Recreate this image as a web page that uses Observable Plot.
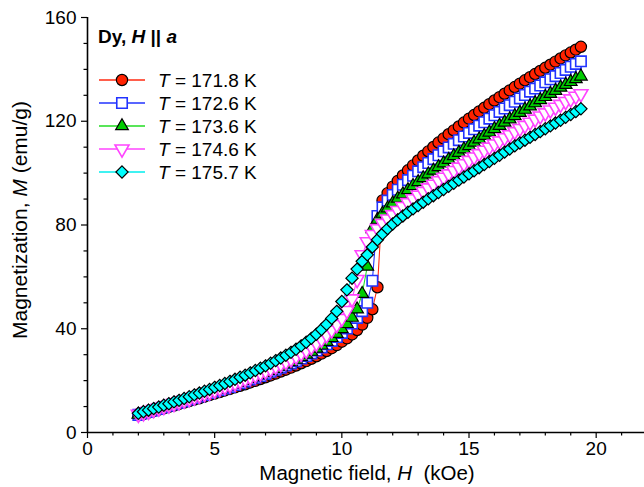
<!DOCTYPE html>
<html>
<head>
<meta charset="utf-8">
<script src="https://cdn.jsdelivr.net/npm/d3@7"></script>
<script src="https://cdn.jsdelivr.net/npm/@observablehq/plot@0.6"></script>
<style>
  html, body { margin: 0; padding: 0; background: #fff; }
  svg { display: block; }
</style>
</head>
<body>
<div id="chart"></div>
<script>
// Magnetic field grid (kOe)
const fieldH = [
  2, 2.2, 2.4, 2.6, 2.8, 3, 3.2, 3.4, 3.6, 3.8,
  4, 4.2, 4.4, 4.6, 4.8, 5, 5.2, 5.4, 5.6, 5.8,
  6, 6.2, 6.4, 6.6, 6.8, 7, 7.2, 7.4, 7.6, 7.8,
  8, 8.2, 8.4, 8.6, 8.8, 9, 9.2, 9.4, 9.6, 9.8,
  10, 10.2, 10.4, 10.6, 10.8, 11, 11.2, 11.4, 11.6, 11.8,
  12, 12.2, 12.4, 12.6, 12.8, 13, 13.2, 13.4, 13.6, 13.8,
  14, 14.2, 14.4, 14.6, 14.8, 15, 15.2, 15.4, 15.6, 15.8,
  16, 16.2, 16.4, 16.6, 16.8, 17, 17.2, 17.4, 17.6, 17.8,
  18, 18.2, 18.4, 18.6, 18.8, 19, 19.2, 19.4
];
// Magnetization (emu/g) for each temperature
const m171_8 = [
  6.6, 7.1, 7.7, 8.2, 8.8, 9.3, 9.9, 10.4, 11.0, 11.5,
  12.1, 12.7, 13.2, 13.8, 14.4, 15.0, 15.6, 16.2, 16.8, 17.4,
  18.0, 18.6, 19.3, 19.9, 20.6, 21.3, 22.0, 22.7, 23.5, 24.2,
  25.0, 25.8, 26.7, 27.5, 28.4, 29.4, 30.4, 31.4, 32.5, 33.7,
  35.0, 36.3, 37.8, 39.5, 41.6, 44.2, 47.5, 56.0, 89.5, 92.3,
  94.8, 97.0, 99.1, 101.1, 103.0, 104.9, 106.7, 108.4, 110.1, 111.8,
  113.4, 115.0, 116.5, 118.0, 119.5, 121.0, 122.4, 123.8, 125.2, 126.6,
  128.0, 129.3, 130.6, 131.9, 133.2, 134.5, 135.8, 137.0, 138.2, 139.4,
  140.6, 141.8, 143.0, 144.2, 145.4, 146.5, 147.6, 148.7
];
const m172_6 = [
  6.8, 7.4, 7.9, 8.5, 9.1, 9.7, 10.3, 10.9, 11.5, 12.1,
  12.7, 13.3, 13.9, 14.5, 15.2, 15.8, 16.4, 17.0, 17.6, 18.3,
  19.0, 19.7, 20.4, 21.1, 21.8, 22.6, 23.4, 24.2, 25.0, 25.8,
  26.6, 27.5, 28.5, 29.5, 30.5, 31.6, 32.8, 34.0, 35.3, 36.8,
  38.4, 40.1, 42.0, 44.2, 46.8, 50.0, 58.5, 83.5, 86.8, 89.4,
  91.6, 93.6, 95.5, 97.3, 99.0, 100.7, 102.3, 103.9, 105.4, 106.9,
  108.4, 109.9, 111.3, 112.7, 114.1, 115.5, 116.9, 118.3, 119.6, 121.0,
  122.3, 123.6, 124.9, 126.2, 127.5, 128.8, 130.1, 131.4, 132.6, 133.8,
  135.0, 136.2, 137.4, 138.6, 139.8, 141.0, 142.1, 143.1
];
const m173_6 = [
  6.9, 7.5, 8.0, 8.6, 9.2, 9.8, 10.4, 11.0, 11.6, 12.2,
  12.8, 13.4, 14.0, 14.7, 15.3, 16.0, 16.6, 17.2, 17.9, 18.6,
  19.3, 20.0, 20.7, 21.4, 22.2, 23.0, 23.8, 24.6, 25.4, 26.3,
  27.2, 28.1, 29.1, 30.1, 31.2, 32.4, 33.6, 35.0, 36.5, 38.1,
  39.9, 41.9, 44.3, 47.5, 53.5, 64.0, 78.5, 82.0, 84.4, 86.5,
  88.4, 90.2, 91.9, 93.5, 95.1, 96.6, 98.1, 99.6, 101.0, 102.4,
  103.8, 105.2, 106.6, 107.9, 109.2, 110.5, 111.8, 113.1, 114.4, 115.7,
  117.0, 118.3, 119.5, 120.8, 122.0, 123.3, 124.5, 125.8, 127.0, 128.2,
  129.4, 130.6, 131.8, 133.0, 134.1, 135.2, 136.3, 137.3
];
const m174_6 = [
  7.0, 7.6, 8.2, 8.8, 9.4, 10.0, 10.6, 11.2, 11.8, 12.4,
  13.0, 13.7, 14.3, 15.0, 15.6, 16.3, 17.0, 17.7, 18.4, 19.1,
  19.8, 20.6, 21.3, 22.1, 22.9, 23.7, 24.6, 25.5, 26.4, 27.3,
  28.3, 29.4, 30.5, 31.7, 33.0, 34.4, 35.9, 37.6, 39.5, 41.6,
  44.0, 47.0, 51.5, 59.0, 68.5, 73.5, 76.3, 78.6, 80.6, 82.3,
  84.0, 85.6, 87.1, 88.6, 90.1, 91.5, 92.9, 94.3, 95.7, 97.1,
  98.4, 99.7, 101.0, 102.3, 103.6, 104.9, 106.2, 107.5, 108.8, 110.0,
  111.2, 112.4, 113.6, 114.8, 116.0, 117.2, 118.4, 119.6, 120.8, 122.0,
  123.2, 124.3, 125.4, 126.5, 127.6, 128.6, 129.6, 130.6
];
const m175_7 = [
  7.4, 8.0, 8.6, 9.2, 9.8, 10.5, 11.1, 11.8, 12.4, 13.1,
  13.8, 14.5, 15.2, 15.9, 16.6, 17.4, 18.1, 18.9, 19.7, 20.5,
  21.3, 22.1, 23.0, 23.9, 24.8, 25.7, 26.7, 27.7, 28.7, 29.8,
  30.9, 32.1, 33.4, 34.8, 36.3, 37.9, 39.7, 41.7, 44.0, 46.7,
  50.5, 55.0, 59.5, 63.0, 66.0, 68.5, 71.5, 74.3, 76.6, 78.6,
  80.4, 82.0, 83.5, 84.9, 86.2, 87.5, 88.8, 90.1, 91.3, 92.5,
  93.7, 94.9, 96.1, 97.3, 98.5, 99.7, 100.9, 102.1, 103.3, 104.5,
  105.7, 106.9, 108.1, 109.3, 110.5, 111.6, 112.7, 113.8, 114.9, 116.0,
  117.1, 118.2, 119.3, 120.4, 121.5, 122.6, 123.7, 124.8
];
const temperatures = ["171.8", "172.6", "173.6", "174.6", "175.7"];
const xMajorTicks = [0, 5, 10, 15, 20];
const xMinorTicks = [1, 2, 3, 4, 6, 7, 8, 9, 11, 12, 13, 14, 16, 17, 18, 19, 21];
const yMajorTicks = [0, 40, 80, 120, 160];
const yMinorTicks = [10, 20, 30, 50, 60, 70, 90, 100, 110, 130, 140, 150];

const triangleDown = {
  draw(context, size) {
    const y = Math.sqrt(size / (3 * Math.sqrt(3)));
    context.moveTo(0, 2 * y);
    context.lineTo(-Math.sqrt(3) * y, -y);
    context.lineTo(Math.sqrt(3) * y, -y);
    context.closePath();
  }
};

const seriesStyle = [
  {m: m171_8, line: "#ff2a10", symbol: "circle", d3sym: d3.symbolCircle, r: 5.6, fill: "#ff2200", stroke: "#000", sw: 1.2},
  {m: m172_6, line: "#2233ff", symbol: "square", d3sym: d3.symbolSquare, r: 5.9, fill: "#ffffff", stroke: "#2233ff", sw: 1.6},
  {m: m173_6, line: "#22dd22", symbol: "triangle", d3sym: d3.symbolTriangle, r: 4.7, fill: "#00cc00", stroke: "#000", sw: 1.2},
  {m: m174_6, line: "#ff44ff", symbol: triangleDown, d3sym: triangleDown, r: 5.2, fill: "#ffffff", stroke: "#ff44ff", sw: 1.6},
  {m: m175_7, line: "#00eeee", symbol: "diamond2", d3sym: d3.symbolDiamond2, r: 5.5, fill: "#00ffff", stroke: "#000", sw: 1.2}
];

const marks = [];
seriesStyle.forEach(s => {
  const data = fieldH.map((h, i) => ({H: h, M: s.m[i]}));
  marks.push(Plot.line(data, {x: "H", y: "M", stroke: s.line, strokeWidth: 1.1}));
  marks.push(Plot.dot(data, {x: "H", y: "M", symbol: s.symbol, r: s.r, fill: s.fill, stroke: s.stroke, strokeWidth: s.sw}));
});

const fontFamily = "'Liberation Sans', Arial, Helvetica, sans-serif";

const svgNode = Plot.plot({
  width: 644,
  height: 487,
  marginLeft: 87,
  marginRight: 0,
  marginTop: 17,
  marginBottom: 55,
  style: {fontFamily, fontSize: "19px", color: "#000", background: "#fff", overflow: "visible"},
  x: {domain: [0, 21.9]},
  y: {domain: [0, 160]},
  marks: [
    Plot.axisX({ticks: xMinorTicks, tickSize: 3.5, tickFormat: () => "", label: null, strokeWidth: 1.2}),
    Plot.axisX({ticks: xMajorTicks, tickSize: 6, tickPadding: 3, label: null, strokeWidth: 1.2, fontSize: 19}),
    Plot.axisY({ticks: yMinorTicks, tickSize: 3.5, tickFormat: () => "", label: null, strokeWidth: 1.2}),
    Plot.axisY({ticks: yMajorTicks, tickSize: 6, tickPadding: 5, label: null, strokeWidth: 1.2, fontSize: 19}),
    Plot.ruleX([0], {stroke: "#000", strokeWidth: 1.6}),
    Plot.ruleY([0], {stroke: "#000", strokeWidth: 1.6}),
    ...marks
  ]
});

document.getElementById("chart").appendChild(svgNode);
const svg = d3.select(svgNode);

// Axis titles
const xt = svg.append("text")
  .attr("x", 367).attr("y", 480)
  .attr("text-anchor", "middle")
  .attr("font-family", fontFamily).attr("font-size", 20.5).attr("fill", "#000");
xt.append("tspan").text("Magnetic field, ");
xt.append("tspan").attr("font-style", "italic").text("H");
xt.append("tspan").text("\u00a0 (kOe)");

const yt = svg.append("text")
  .attr("transform", "translate(27,220) rotate(-90)")
  .attr("text-anchor", "middle")
  .attr("font-family", fontFamily).attr("font-size", 21).attr("fill", "#000");
yt.append("tspan").text("Magnetization, ");
yt.append("tspan").attr("font-style", "italic").text("M");
yt.append("tspan").text(" (emu/g)");

// Panel title
const tt = svg.append("text")
  .attr("x", 98).attr("y", 43)
  .attr("text-anchor", "start")
  .attr("font-family", fontFamily).attr("font-size", 19).attr("font-weight", "bold").attr("fill", "#000");
tt.append("tspan").text("Dy, ");
tt.append("tspan").attr("font-style", "italic").text("H");
tt.append("tspan").text(" || ");
tt.append("tspan").attr("font-style", "italic").text("a");

// Legend
const lg = svg.append("g").attr("text-anchor", "start");
seriesStyle.forEach((s, i) => {
  const cy = 80 + 23 * i;
  lg.append("line").attr("x1", 99).attr("x2", 145).attr("y1", cy).attr("y2", cy)
    .attr("stroke", s.line).attr("stroke-width", 1.5);
  lg.append("path")
    .attr("d", d3.symbol(s.d3sym, Math.PI * s.r * s.r)())
    .attr("transform", `translate(122,${cy})`)
    .attr("fill", s.fill).attr("stroke", s.stroke).attr("stroke-width", s.sw);
  const t = lg.append("text").attr("x", 158).attr("y", cy + 7)
    .attr("text-anchor", "start")
    .attr("font-family", fontFamily).attr("font-size", 19).attr("fill", "#000");
  t.append("tspan").attr("font-style", "italic").text("T");
  t.append("tspan").text(` = ${temperatures[i]} K`);
});
</script>
</body>
</html>
